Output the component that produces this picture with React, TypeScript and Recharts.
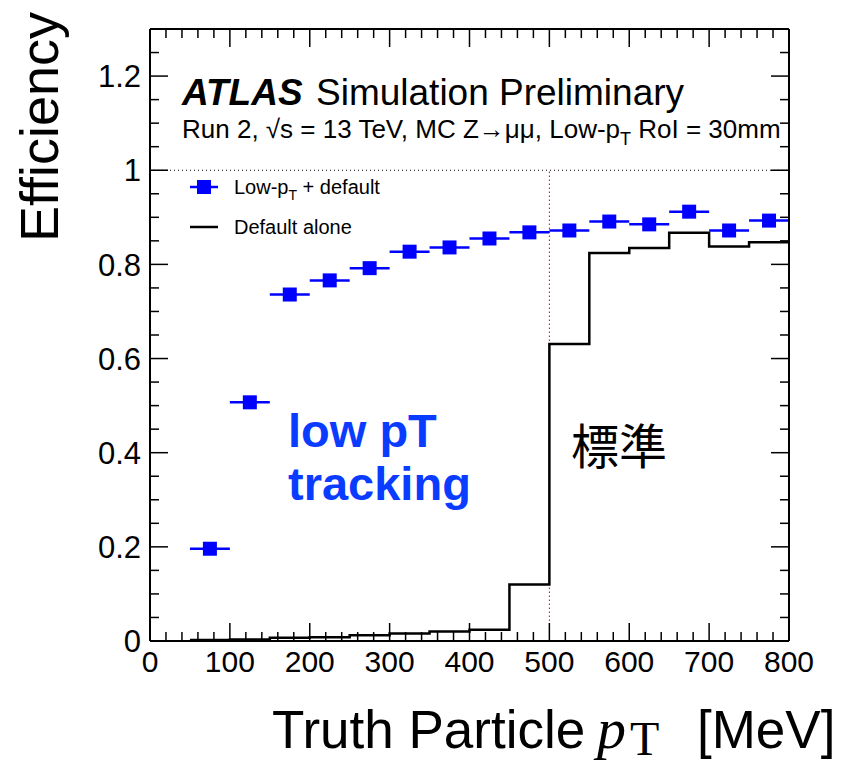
import React from 'react';
import { ComposedChart, Line, Scatter, XAxis, YAxis, ErrorBar, ReferenceLine, Customized } from 'recharts';

// ---- data ----
const binCenters = [75, 125, 175, 225, 275, 325, 375, 425, 475, 525, 575, 625, 675, 725, 775];
const lowPtEff = [0.196, 0.507, 0.736, 0.766, 0.792, 0.827, 0.836, 0.855, 0.868, 0.872, 0.891, 0.885, 0.912, 0.872, 0.893];
const binHalfWidth = [25, 25, 25, 25, 25, 25, 25, 25, 25, 25, 25, 25, 25, 25, 25];

const histEdges = [50, 100, 150, 200, 250, 300, 350, 400, 450, 500, 550, 600, 650, 700, 750, 800];
const defaultEff = [0.002, 0.003, 0.007, 0.008, 0.012, 0.016, 0.020, 0.024, 0.120, 0.631, 0.824, 0.835, 0.867, 0.838, 0.847];

const xMajorTicks = [0, 100, 200, 300, 400, 500, 600, 700, 800];
const xTickLabels = ['0', '100', '200', '300', '400', '500', '600', '700', '800'];
const yMajorTicks = [0, 0.2, 0.4, 0.6, 0.8, 1, 1.2];
const yTickLabels = ['0', '0.2', '0.4', '0.6', '0.8', '1', '1.2'];
const xAllTicks = Array.from({ length: 41 }, (_, i) => i * 20);
const yAllTicks = Array.from({ length: 26 }, (_, i) => Math.round(i * 5) / 100);

const pointData = binCenters.map((x, i) => ({ x, eff: lowPtEff[i], xErr: binHalfWidth[i] }));
const stepData = histEdges.map((x, i) => ({ x, eff: defaultEff[Math.min(i, defaultEff.length - 1)] }));

const SANS = '"Liberation Sans", Arial, Helvetica, sans-serif';
const SERIF = '"Liberation Serif", "Times New Roman", serif';
const MAJ = 18;
const MIN = 9;

const isXMajor = (v: number) => xMajorTicks.indexOf(v) >= 0;
const yMajorIndex = (v: number) => yMajorTicks.findIndex((t) => Math.abs(t - v) < 1e-6);

const BottomTick = (props: any) => {
  const { x, y, payload } = props;
  const v = payload.value;
  const idx = xMajorTicks.indexOf(v);
  const major = idx >= 0;
  return (
    <g>
      <line x1={x} x2={x} y1={y} y2={y - (major ? MAJ : MIN)} stroke="#000" strokeWidth={1.5} />
      {major && (
        <text x={x} y={y + 31} textAnchor="middle" fontSize={30} fontFamily={SANS} fill="#000">
          {xTickLabels[idx]}
        </text>
      )}
    </g>
  );
};

const TopTick = (props: any) => {
  const { x, y, payload } = props;
  const major = isXMajor(payload.value);
  return <line x1={x} x2={x} y1={y} y2={y + (major ? MAJ : MIN)} stroke="#000" strokeWidth={1.5} />;
};

const LeftTick = (props: any) => {
  const { x, y, payload } = props;
  const idx = yMajorIndex(payload.value);
  const major = idx >= 0;
  return (
    <g>
      <line x1={x} x2={x + (major ? MAJ : MIN)} y1={y} y2={y} stroke="#000" strokeWidth={1.5} />
      {major && (
        <text x={x - 9} y={y} dy="0.36em" textAnchor="end" fontSize={31} fontFamily={SANS} fill="#000">
          {yTickLabels[idx]}
        </text>
      )}
    </g>
  );
};

const RightTick = (props: any) => {
  const { x, y, payload } = props;
  const major = yMajorIndex(payload.value) >= 0;
  return <line x1={x} x2={x - (major ? MAJ : MIN)} y1={y} y2={y} stroke="#000" strokeWidth={1.5} />;
};

const SquareMarker = (props: any) => {
  const { cx, cy } = props;
  if (cx == null || cy == null) return null;
  return <rect x={cx - 7} y={cy - 7} width={14} height={14} fill="#0000ff" />;
};

const Annotations = () => (
  <g fontFamily={SANS}>
    {/* y axis title */}
    <text transform="translate(50,4) rotate(-90)" textAnchor="end" fontSize={54} fill="#000">
      Efficiency
    </text>
    {/* x axis title */}
    <text x={264} y={740} fontSize={53} fill="#000">
      Truth Particle
      <tspan x={589} fontFamily={SERIF} fontStyle="italic" fontSize={58}>p</tspan>
      <tspan x={622} fontFamily={SERIF} fontSize={48} dy={7}>T</tspan>
      <tspan x={689} dy={-7}>[MeV]</tspan>
    </text>
    {/* ATLAS label */}
    <text x={174} y={97} fontSize={37} fill="#000">
      <tspan fontWeight="bold" fontStyle="italic">ATLAS</tspan>
      <tspan x={308}>Simulation Preliminary</tspan>
    </text>
    <text x={174} y={130} fontSize={26} fill="#000">
      Run 2, √s = 13 TeV, MC Z→μμ, Low-p
      <tspan fontSize={18} dy={7}>T</tspan>
      <tspan dy={-7}> RoI = 30mm</tspan>
    </text>
    {/* legend */}
    <line x1={182} x2={210} y1={179} y2={179} stroke="#0000ff" strokeWidth={2.5} />
    <rect x={189} y={172} width={14} height={14} fill="#0000ff" />
    <text x={226} y={186} fontSize={20} fill="#000">
      Low-p<tspan fontSize={14} dy={6}>T</tspan>
      <tspan dy={-6}> + default</tspan>
    </text>
    <line x1={182} x2={210} y1={219} y2={219} stroke="#000" strokeWidth={2.5} />
    <text x={226} y={226} fontSize={20} fill="#000">
      Default alone
    </text>
    {/* annotations */}
    <text x={280} y={439} fontSize={47} fontWeight="bold" fill="#0a3cff">
      low pT
    </text>
    <text x={280} y={492} fontSize={47} fontWeight="bold" fill="#0a3cff">
      tracking
    </text>
    <text x={563} y={456} fontSize={48} fontFamily='"Noto Sans CJK JP", "Noto Sans CJK SC", sans-serif' fill="#000">
      標準
    </text>
  </g>
);

export default function App() {
  return (
    <ComposedChart width={833} height={759} margin={{ top: 20, right: 51, bottom: 0, left: 0 }}>
      <XAxis
        xAxisId="bottom"
        dataKey="x"
        type="number"
        domain={[0, 800]}
        ticks={xAllTicks}
        interval={0}
        height={126}
        tickSize={0}
        tickMargin={0}
        tickLine={false}
        tick={<BottomTick />}
        axisLine={{ stroke: '#000', strokeWidth: 2 }}
        allowDataOverflow
      />
      <XAxis
        xAxisId="top"
        orientation="top"
        dataKey="x"
        type="number"
        domain={[0, 800]}
        ticks={xAllTicks}
        interval={0}
        height={1}
        tickSize={0}
        tickMargin={0}
        tickLine={false}
        tick={<TopTick />}
        axisLine={{ stroke: '#000', strokeWidth: 2 }}
        allowDataOverflow
      />
      <YAxis
        yAxisId="left"
        type="number"
        domain={[0, 1.3]}
        ticks={yAllTicks}
        interval={0}
        width={142}
        tickSize={0}
        tickMargin={0}
        tickLine={false}
        tick={<LeftTick />}
        axisLine={{ stroke: '#000', strokeWidth: 2 }}
        allowDataOverflow
      />
      <YAxis
        yAxisId="right"
        orientation="right"
        type="number"
        domain={[0, 1.3]}
        ticks={yAllTicks}
        interval={0}
        width={1}
        tickSize={0}
        tickMargin={0}
        tickLine={false}
        tick={<RightTick />}
        axisLine={{ stroke: '#000', strokeWidth: 2 }}
        allowDataOverflow
      />
      <ReferenceLine
        xAxisId="bottom"
        yAxisId="left"
        y={1}
        stroke="#000"
        strokeWidth={1}
        strokeDasharray="1 3"
      />
      <ReferenceLine
        xAxisId="bottom"
        yAxisId="left"
        segment={[{ x: 500, y: 0 }, { x: 500, y: 1 }]}
        stroke="#e00000"
        strokeWidth={1}
        strokeDasharray="1.5 2.5"
      />
      {/* invisible series binding the mirrored top/right frame axes */}
      <Line
        xAxisId="top"
        yAxisId="right"
        data={stepData}
        dataKey="eff"
        type="stepAfter"
        stroke="none"
        strokeWidth={0}
        dot={false}
        activeDot={false}
        legendType="none"
        isAnimationActive={false}
      />
      <Line
        xAxisId="bottom"
        yAxisId="left"
        data={stepData}
        dataKey="eff"
        type="stepAfter"
        stroke="#000"
        strokeWidth={2.5}
        dot={false}
        activeDot={false}
        isAnimationActive={false}
      />
      <Scatter
        xAxisId="bottom"
        yAxisId="left"
        data={pointData}
        dataKey="eff"
        shape={<SquareMarker />}
        isAnimationActive={false}
      >
        <ErrorBar dataKey="xErr" direction="x" width={0} stroke="#0000ff" strokeWidth={2.5} />
      </Scatter>
      <Customized component={<Annotations />} />
    </ComposedChart>
  );
}
